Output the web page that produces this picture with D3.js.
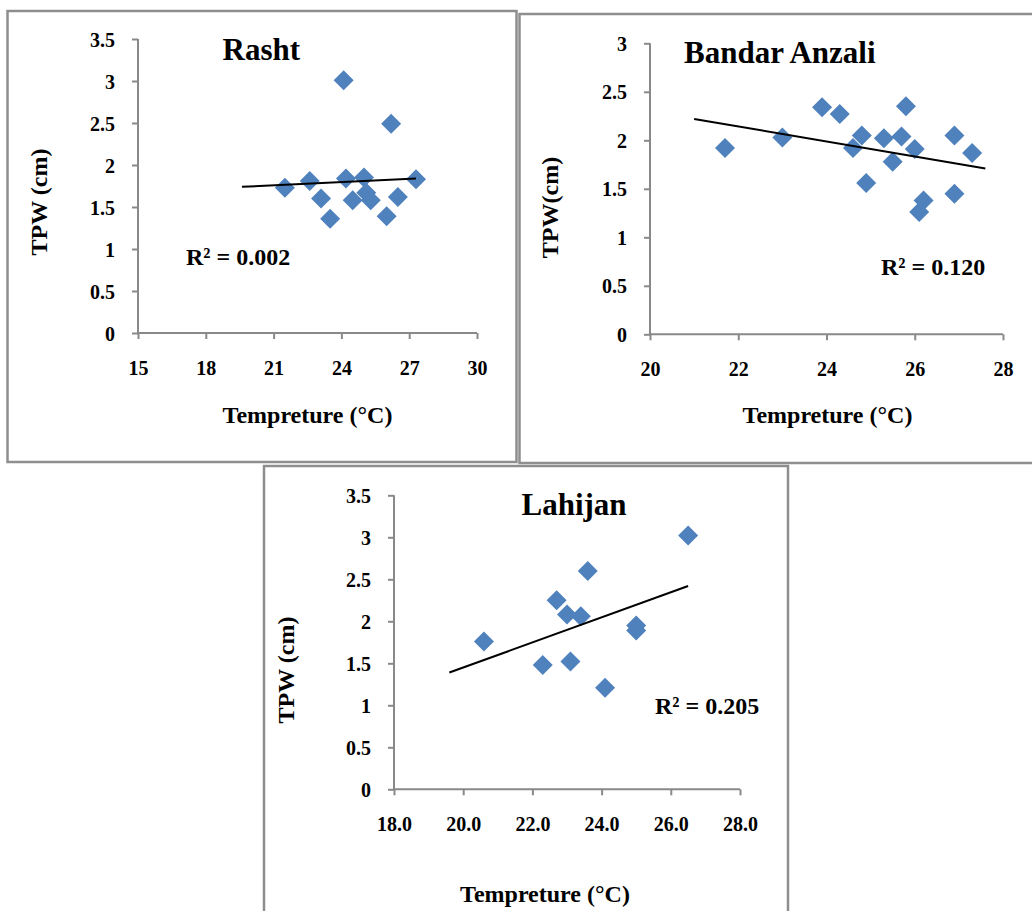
<!DOCTYPE html>
<html>
<head>
<meta charset="utf-8">
<script src="https://cdn.jsdelivr.net/npm/d3@7"></script>
<style>
  html, body { margin: 0; padding: 0; background: #fff; }
  svg { display: block; }
  text { font-family: "Liberation Serif", "Times New Roman", serif; font-weight: bold; fill: #000; }
</style>
</head>
<body>
<svg id="chart" width="1032" height="911"></svg>
<script>
// ---------- DATA ----------
const rashtTemp = [21.5, 22.6, 23.1, 23.5, 24.1, 24.2, 24.5, 25.0, 25.1, 25.3, 26.0, 26.2, 26.5, 27.3];
const rashtTPW  = [1.73, 1.81, 1.60, 1.36, 3.01, 1.84, 1.58, 1.85, 1.67, 1.58, 1.39, 2.49, 1.62, 1.83];
const rashtTrendX = [19.6, 27.3];
const rashtTrendY = [1.74, 1.84];
const rashtXTicks = [15, 18, 21, 24, 27, 30];
const rashtYTicks = [0, 0.5, 1, 1.5, 2, 2.5, 3, 3.5];

const anzaliTemp = [21.7, 23.0, 23.9, 24.3, 24.6, 24.8, 24.9, 25.3, 25.5, 25.7, 25.8, 26.0, 26.1, 26.2, 26.9, 26.9, 27.3];
const anzaliTPW  = [1.92, 2.03, 2.34, 2.27, 1.92, 2.05, 1.56, 2.02, 1.78, 2.04, 2.35, 1.91, 1.26, 1.38, 2.05, 1.45, 1.87];
const anzaliTrendX = [21.0, 27.6];
const anzaliTrendY = [2.22, 1.71];
const anzaliXTicks = [20, 22, 24, 26, 28];
const anzaliYTicks = [0, 0.5, 1, 1.5, 2, 2.5, 3];

const lahijanTemp = [20.6, 22.3, 22.7, 23.0, 23.1, 23.4, 23.6, 24.1, 25.0, 25.0, 26.5];
const lahijanTPW  = [1.76, 1.48, 2.25, 2.08, 1.52, 2.06, 2.60, 1.21, 1.95, 1.89, 3.02];
const lahijanTrendX = [19.6, 26.5];
const lahijanTrendY = [1.39, 2.42];
const lahijanXTicks = [18, 20, 22, 24, 26, 28];
const lahijanYTicks = [0, 0.5, 1, 1.5, 2, 2.5, 3, 3.5];

const titles = ["Rasht", "Bandar Anzali", "Lahijan"];
const r2Labels = ["R² = 0.002", "R² = 0.120", "R² = 0.205"];
const xTitle = "Tempreture (°C)";
const yTitles = ["TPW (cm)", "TPW(cm)", "TPW (cm)"];

// ---------- LAYOUT ----------
const svg = d3.select("#chart");
const BLUE = "#4F81BD";
const AXIS = "#898989";
const FRAME = "#8e8e8e";
const FONT = "'Liberation Serif','Times New Roman',serif";

const panels = [
  { frame: [7.5, 11, 516.5, 462], px: [138, 477], py: [333, 39],
    xDom: [15, 30], yDom: [0, 3.5], temp: rashtTemp, tpw: rashtTPW,
    tx: rashtTrendX, ty: rashtTrendY, xt: rashtXTicks, yt: rashtYTicks, xfmt: d3.format("d"),
    title: [222.5, 60], r2: [186, 265], xTitle: [307.5, 423], yTitle: [46.5, 202] },
  { frame: [519.5, 14, 1040, 463], px: [650, 1003], py: [334.3, 43.3],
    xDom: [20, 28], yDom: [0, 3], temp: anzaliTemp, tpw: anzaliTPW,
    tx: anzaliTrendX, ty: anzaliTrendY, xt: anzaliXTicks, yt: anzaliYTicks, xfmt: d3.format("d"),
    title: [684, 63], r2: [881, 275], xTitle: [827.5, 423], yTitle: [558, 207.5] },
  { frame: [264, 466, 788, 930], px: [394, 740], py: [789.3, 495.3],
    xDom: [18, 28], yDom: [0, 3.5], temp: lahijanTemp, tpw: lahijanTPW,
    tx: lahijanTrendX, ty: lahijanTrendY, xt: lahijanXTicks, yt: lahijanYTicks, xfmt: d3.format(".1f"),
    title: [521.5, 515], r2: [655, 714], xTitle: [545, 902], yTitle: [294, 670] }
];

const yFmt = v => (v === 0 ? "0" : d3.format("~g")(v));

panels.forEach((p, i) => {
  const g = svg.append("g");
  // frame
  g.append("rect")
    .attr("x", p.frame[0]).attr("y", p.frame[1])
    .attr("width", p.frame[2] - p.frame[0]).attr("height", p.frame[3] - p.frame[1])
    .attr("fill", "none").attr("stroke", FRAME).attr("stroke-width", 2.5);

  const x = d3.scaleLinear().domain(p.xDom).range(p.px);
  const y = d3.scaleLinear().domain(p.yDom).range(p.py);

  // axes
  const xAxis = d3.axisBottom(x).tickValues(p.xt).tickSize(6).tickFormat(p.xfmt);
  const yAxis = d3.axisLeft(y).tickValues(p.yt).tickSize(6).tickFormat(yFmt);

  const gx = g.append("g").attr("transform", `translate(0,${p.py[0]})`).call(xAxis);
  const gy = g.append("g").attr("transform", `translate(${p.px[0]},0)`).call(yAxis);

  [gx, gy].forEach(ax => {
    ax.attr("font-family", FONT).attr("font-size", 20);
    ax.select(".domain").attr("stroke", AXIS).attr("stroke-width", 2);
    ax.selectAll(".tick line").attr("stroke", AXIS).attr("stroke-width", 2);
    ax.selectAll("text").style("font-family", FONT)
      .style("font-weight", "bold").style("font-size", "20px").attr("fill", "#000");
  });
  gx.select(".domain").attr("d", `M${p.px[0]},0H${p.px[1]}`);
  gy.select(".domain").attr("d", `M0,${p.py[0]}V${p.py[1]}`);
  gx.selectAll(".tick text").attr("y", 42).attr("dy", null);
  gy.selectAll(".tick text").attr("x", -23).attr("dy", "0.35em");

  // markers
  const pts = p.temp.map((t, k) => [t, p.tpw[k]]);
  const sym = d3.symbol().type(d3.symbolSquare).size(200);
  g.append("g").selectAll("path").data(pts).join("path")
    .attr("d", sym)
    .attr("transform", d => `translate(${x(d[0])},${y(d[1])}) rotate(45)`)
    .attr("fill", BLUE);

  // trend line
  const line = d3.line().x(d => x(d[0])).y(d => y(d[1]));
  g.append("path")
    .datum(p.tx.map((t, k) => [t, p.ty[k]]))
    .attr("d", line).attr("fill", "none").attr("stroke", "#000").attr("stroke-width", 2);

  // texts
  g.append("text").attr("x", p.title[0]).attr("y", p.title[1]).style("font-size", "31px").text(titles[i]);
  g.append("text").attr("x", p.r2[0]).attr("y", p.r2[1]).style("font-size", "24px").text(r2Labels[i]);
  g.append("text").attr("x", p.xTitle[0]).attr("y", p.xTitle[1]).attr("text-anchor", "middle")
    .style("font-size", "24px").text(xTitle);
  g.append("text").attr("transform", `translate(${p.yTitle[0]},${p.yTitle[1]}) rotate(-90)`)
    .attr("text-anchor", "middle").style("font-size", "24px").text(yTitles[i]);
});
</script>
</body>
</html>
